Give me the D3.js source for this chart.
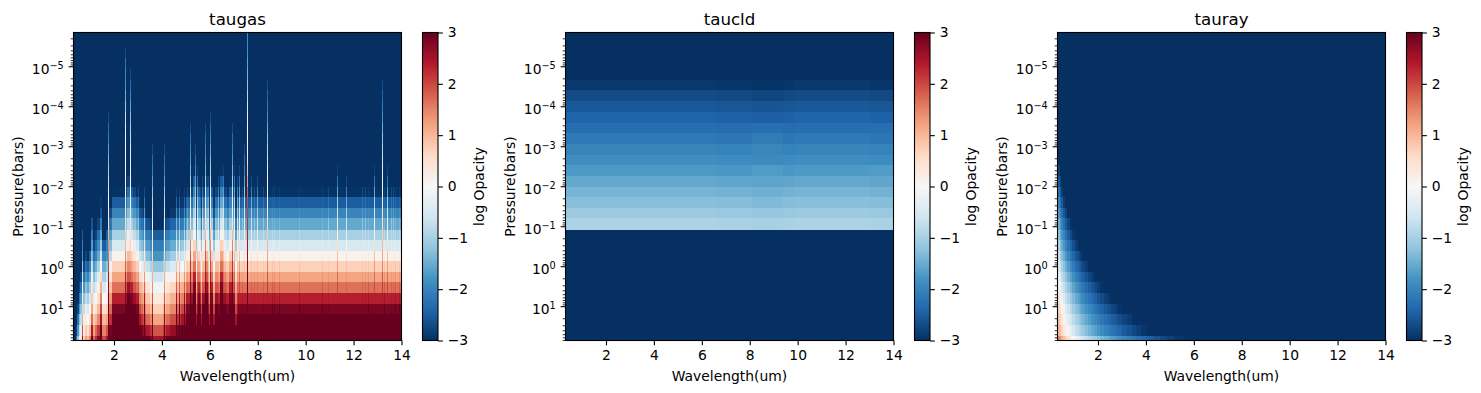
<!DOCTYPE html>
<html>
<head>
<meta charset="utf-8">
<style>
  html, body { margin: 0; padding: 0; background: #fff; }
  svg { display: block; }
  text { font-family: "DejaVu Sans", sans-serif; fill: #000; }
  .axis text { font-size: 13.89px; font-family: "DejaVu Sans", sans-serif; }
  .axis path { display: none; }
  .axis line { stroke: #000; stroke-width: 1.1; }
  .minor line { stroke-width: 0.83; }
</style>
</head>
<body>
<div id="chart"></div>
<script src="https://cdn.jsdelivr.net/npm/d3@7"></script>
<script>
// pressure layer edges in bars, top of the atmosphere first (30 layers)
const pressureEdges = [1.43e-6, 1.86e-6, 3.44e-6, 6.38e-6, 1.17e-5, 2.18e-5, 4.03e-5, 7.41e-5, 1.37e-4, 2.55e-4,
  4.69e-4, 8.67e-4, 1.61e-3, 2.96e-3, 5.48e-3, 1.02e-2, 1.88e-2, 3.46e-2, 6.41e-2, 0.121,
  0.224, 0.405, 0.75, 1.36, 2.51, 4.66, 8.57, 15.8, 29.5, 54.1, 72.1];

const waveTicks = [2, 4, 6, 8, 10, 12, 14];
const pressureTicks = [1e-5, 1e-4, 1e-3, 1e-2, 1e-1, 1, 10];
const pressureExponents = ['\u22125', '\u22124', '\u22123', '\u22122', '\u22121', '0', '1'];
const opacityTicks = [-3, -2, -1, 0, 1, 2, 3];
const titles = ['taugas', 'taucld', 'tauray'];

// RdBu_r stops from -3 to 3
const rdbu = ['#053061', '#2166ac', '#4393c3', '#92c5de', '#d1e5f0', '#f7f7f7', '#fddbc7', '#f4a582', '#d6604d', '#b2182b', '#67001f'];

// taugas: log opacity profiles, listed from the deepest layer upward; layers not listed sit at the floor of -3
const gasProfiles = [
  [],
  [-2.75],
  [-2.5],
  [-2.25, -2.75],
  [-2, -2.5],
  [-1.75, -2.25, -2.75],
  [-1.5, -2, -2.5],
  [-1.25, -1.75, -2.25, -2.75],
  [-1, -1.5, -2, -2.5],
  [-0.75, -1.25, -1.75, -2.25, -2.75],
  [-0.5, -1, -1.5, -2, -2.5],
  [-0.25, -0.75, -1.25, -1.75, -2.25, -2.75],
  [0, -0.5, -1, -1.5, -2, -2.5],
  [0.25, -0.25, -0.75, -1.25, -1.75, -2.25, -2.75],
  [0.5, 0, -0.5, -1, -1.5, -2, -2.5],
  [0.75, 0.25, -0.25, -0.75, -1.25, -1.75, -2.25, -2.75],
  [1, 0.5, 0, -0.5, -1, -1.5, -2, -2.5],
  [1.25, 0.75, 0.25, -0.25, -0.75, -1.25, -1.75, -2.25, -2.75],
  [1.5, 1, 0.5, 0, -0.5, -1, -1.5, -2, -2.5],
  [1.75, 1.25, 0.75, 0.25, -0.25, -0.75, -1.25, -1.75, -2.25, -2.75],
  [2, 1.5, 1, 0.5, 0, -0.5, -1, -1.5, -2, -2.5],
  [2.25, 1.7, 1, 0.45, 0.05, -0.35, -0.85, -1.45, -2.05, -2.4, -2.8],
  [2.5, 1.9, 1.2, 0.7, 0.3, -0.1, -0.6, -1.2, -1.8, -2.1, -2.5],
  [2.75, 2.15, 1.45, 0.95, 0.55, 0.15, -0.35, -0.95, -1.55, -1.9, -2.3, -2.8],
  [3, 2.4, 1.7, 1.2, 0.8, 0.4, -0.1, -0.7, -1.3, -1.7, -2.1, -2.6],
  [3.25, 2.65, 1.95, 1.45, 1.05, 0.65, 0.15, -0.45, -1.05, -1.5, -1.9, -2.4, -2.9],
  [3.5, 2.9, 2.2, 1.7, 1.3, 0.9, 0.4, -0.2, -0.8, -1.3, -1.7, -2.2, -2.7],
  [3.75, 3.2, 2.5, 2, 1.5, 1.1, 0.6, 0, -0.6, -1.1, -1.6, -2.1, -2.6, -2.9],
  [3.5, 3.5, 3.5, 2.85, 2.35, 1.65, 1.2, 0.7, 0.1, -0.5, -1, -1.55, -2, -2.5, -2.95],
  [3.5, 3.5, 3.5, 3.05, 2.6, 1.9, 1.45, 0.95, 0.35, -0.25, -0.75, -1.3, -1.75, -2.25, -2.8],
  [3.5, 3.5, 3.5, 3.5, 2.85, 2.35, 1.65, 1.2, 0.7, 0.1, -0.5, -1, -1.55, -2, -2.5, -2.95],
  [3.5, 3.5, 3.5, 3.5, 3.05, 2.6, 1.9, 1.45, 0.95, 0.35, -0.25, -0.75, -1.3, -1.75, -2.25, -2.8],
  [3.5, 3.5, 3.5, 3.5, 3.5, 2.85, 2.35, 1.65, 1.2, 0.7, 0.1, -0.5, -1, -1.55, -2, -2.5, -2.95]
];

// taugas background: wavelength bin edges (um) and the profile each bin uses
const gasWaveEdges = [0.31, 0.414, 0.469, 0.527, 0.581, 0.652, 0.706, 0.79, 0.873, 0.955, 1.04, 1.124, 1.206, 1.29, 1.404, 1.487,
  1.678, 1.748, 1.929, 2.45, 2.541, 2.671, 2.792, 2.922, 3.042, 3.133, 3.213, 3.333, 3.504, 3.624, 3.835, 4.046, 4.166, 4.337,
  4.588, 4.798, 5.009, 5.17, 5.3, 5.42, 5.51, 5.59, 5.67, 5.8, 5.92, 6.01, 6.13, 6.21, 6.34, 6.42, 6.55, 6.67, 6.81, 6.93,
  7.05, 7.18, 7.3, 7.43, 7.55, 14];
const gasBinProfile = [0, 3, 7, 11, 13, 22, 15, 17, 16, 18, 24, 19, 21, 23, 27, 20,
  22, 26, 28, 29, 31, 30, 29, 28, 27, 26, 25, 24, 23, 22, 22, 23, 24,
  25, 26, 27, 28, 29, 32, 27, 30, 27, 29, 31, 27, 30, 27, 29, 28, 32, 29, 28, 30,
  29, 27, 28, 28, 28, 28];

// taugas lines, top layer first; each row is one kind of line by how high it reaches
const lineProfiles = [
  [-1.9, -1.9, -1.8, -1.6, -1.4, -1.2, -0.9, -0.5, -0.2, 0, 0, 0.2, 0.5, 0.9, 1.3, 1.8, 2, 2.1, 2.2, 2.3, 2.5, 2.7, 2.8, 3, 3, 3, 3, 3, 3, 3],
  [-3, -3, -2.7, -2.2, -2, -1.8, -1.5, -1.1, -0.7, -0.4, -0.1, 0, 0, 0, 0.1, 0.2, 0.4, 0.5, 0.6, 0.8, 1, 1.4, 1.8, 2.3, 2.6, 2.8, 3, 3, 3, 3],
  [-3, -3, -3, -3, -2.7, -2.3, -2, -1.6, -1.3, -1, -0.8, -0.5, -0.3, -0.2, -0.1, 0, 0.2, 0.3, 0.4, 0.5, 0.7, 0.9, 1.4, 1.9, 2.3, 2.7, 3, 3, 3, 3],
  [-3, -3, -3, -3, -3, -2.7, -2.4, -2.1, -1.8, -1.5, -1.2, -0.9, -0.6, -0.3, -0.1, 0, 0.2, 0.4, 0.6, 0.8, 1, 1.2, 1.5, 1.9, 2.1, 2.4, 2.8, 3, 3, 3],
  [-3, -3, -3, -3, -3, -3, -3, -3, -2.7, -2.3, -2, -1.6, -1.3, -1, -0.7, -0.3, 0, 0.3, 0.6, 1, 1.4, 1.7, 2, 2.4, 2.7, 2.9, 3, 3, 3, 3],
  [-3, -3, -3, -3, -3, -3, -3, -3, -3, -2.7, -2.3, -2, -1.7, -1.4, -1, -0.5, -0.2, 0.1, 0.5, 1, 1.5, 1.9, 2.2, 2.5, 2.8, 3, 3, 3, 3, 3],
  [-3, -3, -3, -3, -3, -3, -3, -3, -3, -3, -3, -2.7, -2.3, -2, -1.6, -1.2, -0.8, -0.5, -0.2, 0.1, 0.3, 0.6, 0.9, 1.1, 1.4, 1.8, 2.3, 2.7, 3, 3],
  [-3, -3, -3, -3, -3, -3, -3, -3, -3, -3, -3, -3, -3, -2.8, -2.2, -1.6, -1, -0.5, -0.2, 0.1, 0.5, 0.9, 1.3, 1.7, 2, 2.3, 2.6, 3, 3, 3],
  [-3, -3, -3, -3, -3, -3, -3, -3, -3, -3, -3, -3, -3, -3, -2.7, -2.1, -1.5, -1, -0.6, -0.3, 0.1, 0.5, 0.9, 1.3, 1.8, 2.2, 2.6, 3, 3, 3],
  [-3, -3, -3, -3, -3, -3, -3, -3, -3, -3, -3, -3, -3, -3, -3, -2.7, -2.2, -1.7, -1.2, -0.8, -0.4, 0.2, 0.8, 1.3, 1.8, 2.4, 2.9, 3, 3, 3],
  [-3, -3, -3, -3, -3, -3, -3, -3, -3, -3, -3, -3, -3, -3, -3, -2.85, -2.4, -1.85, -1.4, -0.85, -0.35, 0.25, 0.85, 1.35, 1.85, 2.5, 3, 3, 3, 3]
];
const lineWave = [1.76, 2.49, 2.7, 2.54, 2.79, 2.88, 3.01, 3.27, 3.62, 4.1,
  4.62, 4.75, 4.95, 5.07, 5.2, 5.32, 5.39, 5.49, 5.6, 5.7, 5.81, 5.95, 6.02, 6.12, 6.24, 6.35, 6.45, 6.56, 6.7, 6.93, 7.04,
  7.15, 7.25, 7.35, 7.43, 7.56, 7.74, 7.85, 7.97, 8.22, 8.4, 8.6, 8.72, 8.89,
  9.75, 10.72, 10.96, 11.32, 11.7, 12.36, 12.49, 12.64, 12.87, 13.2, 13.3, 13.41, 13.58, 13.68, 13.77, 13.91];
const lineKind = [4, 1, 2, 9, 9, 9, 9, 9, 6, 6,
  10, 10, 10, 9, 5, 8, 6, 7, 9, 8, 5, 8, 4, 9, 9, 8, 9, 7, 9, 5, 7,
  8, 7, 9, 6, 0, 8, 9, 8, 9, 3, 10, 10, 10,
  10, 10, 9, 7, 8, 9, 9, 10, 7, 3, 10, 7, 9, 9, 10, 10];
const lineWidth = 0.042;

// taucld: wavelength bins and log opacity per cloud layer
const cldWaveEdges = [0.31, 6.6, 8.1, 9.4, 9.9, 13, 14];
const cldLayers = [5, 6, 7, 8, 9, 10, 11, 12, 13, 14, 15, 16, 17, 18];
const cldOpacity = [
  [-2.9, -2.93, -2.96, -2.93, -2.9, -2.93],
  [-2.7, -2.73, -2.76, -2.73, -2.7, -2.73],
  [-2.55, -2.58, -2.6, -2.58, -2.55, -2.58],
  [-2.42, -2.45, -2.48, -2.45, -2.42, -2.45],
  [-2.3, -2.32, -2.28, -2.32, -2.3, -2.28],
  [-2.15, -2.18, -2.12, -2.18, -2.15, -2.18],
  [-2, -2.03, -1.98, -2.03, -2, -2.03],
  [-1.87, -1.9, -1.92, -1.9, -1.87, -1.9],
  [-1.72, -1.75, -1.7, -1.75, -1.72, -1.7],
  [-1.55, -1.58, -1.6, -1.58, -1.55, -1.58],
  [-1.4, -1.43, -1.46, -1.43, -1.4, -1.43],
  [-1.27, -1.3, -1.33, -1.3, -1.27, -1.3],
  [-1.1, -1.13, -1.16, -1.13, -1.1, -1.13],
  [-0.95, -0.97, -1, -0.97, -0.95, -0.97]
];

// tauray: wavelength bins, then log opacity per layer from the deepest upward; bins not listed sit at -3
const rayWaveEdges = [0.31, 0.4, 0.47, 0.55, 0.63, 0.72, 0.82, 0.93, 1.05, 1.15, 1.25, 1.35, 1.47, 1.58, 1.7, 1.82, 1.95, 2.1, 2.25,
  2.4, 2.55, 2.7, 2.85, 3, 3.2, 3.4, 3.6, 3.8, 4.05, 4.3, 4.6, 4.9, 5.2, 5.6, 14];
const rayOpacity = [
  [1.5, 1.35, 1.1, 0.9, 0.65, 0.45, 0.2, 0, -0.17, -0.32, -0.46, -0.6, -0.73, -0.86, -0.98, -1.1, -1.23, -1.35, -1.47, -1.57, -1.68, -1.77, -1.86, -1.97, -2.07, -2.18, -2.27, -2.38, -2.48, -2.6, -2.71, -2.81, -2.93],
  [1, 0.9, 0.62, 0.37, 0.13, -0.1, -0.32, -0.53, -0.72, -0.87, -1.01, -1.15, -1.28, -1.41, -1.53, -1.65, -1.78, -1.9, -2.02, -2.12, -2.23, -2.32, -2.41, -2.52, -2.62, -2.73, -2.82, -2.93],
  [0.8, 0.64, 0.36, 0.11, -0.13, -0.36, -0.58, -0.79, -0.98, -1.13, -1.27, -1.41, -1.54, -1.67, -1.79, -1.91, -2.04, -2.16, -2.28, -2.38, -2.49, -2.58, -2.67, -2.78, -2.88, -2.99],
  [0.65, 0.37, 0.09, -0.16, -0.4, -0.63, -0.85, -1.06, -1.25, -1.4, -1.54, -1.68, -1.81, -1.94, -2.06, -2.18, -2.31, -2.43, -2.55, -2.65, -2.76, -2.85, -2.94],
  [0.38, 0.1, -0.18, -0.43, -0.67, -0.9, -1.12, -1.33, -1.52, -1.67, -1.81, -1.95, -2.08, -2.21, -2.33, -2.45, -2.58, -2.7, -2.82, -2.92],
  [0.12, -0.16, -0.44, -0.69, -0.93, -1.16, -1.38, -1.59, -1.78, -1.93, -2.07, -2.21, -2.34, -2.47, -2.59, -2.71, -2.84, -2.96],
  [-0.15, -0.43, -0.71, -0.96, -1.2, -1.43, -1.65, -1.86, -2.05, -2.2, -2.34, -2.48, -2.61, -2.74, -2.86, -2.98],
  [-0.41, -0.69, -0.97, -1.22, -1.46, -1.69, -1.91, -2.12, -2.31, -2.46, -2.6, -2.74, -2.87],
  [-0.68, -0.96, -1.24, -1.49, -1.73, -1.96, -2.18, -2.39, -2.58, -2.73, -2.87],
  [-0.94, -1.22, -1.5, -1.75, -1.99, -2.22, -2.44, -2.65, -2.84, -2.99],
  [-1.21, -1.49, -1.77, -2.02, -2.26, -2.49, -2.71, -2.92],
  [-1.47, -1.75, -2.03, -2.28, -2.52, -2.75, -2.97],
  [-1.74, -2.02, -2.3, -2.55, -2.79],
  [-2.01, -2.29, -2.57, -2.82],
  [-2.27, -2.55, -2.83],
  [-2.54, -2.82],
  [-2.81]
];

const chartWidth = 1481;
const chartHeight = 393;
const panelLeft = [73.5, 565.5, 1057.5];
const panelWidth = 328;
const plotTop = 32.5;
const plotBottom = 340.5;
const cbarGap = 349;
const cbarWidth = 15.5;
const tickLength = 4.86;
const layerCount = pressureEdges.length - 1;

const color = d3.scaleLinear()
  .domain(rdbu.map((d, i) => -3 + i * 0.6))
  .range(rdbu)
  .clamp(true);

const svg = d3.select('#chart').append('svg')
  .attr('width', chartWidth)
  .attr('height', chartHeight);

const defs = svg.append('defs');
const gradient = defs.append('linearGradient')
  .attr('id', 'cbar')
  .attr('x1', 0).attr('y1', 1).attr('x2', 0).attr('y2', 0);
gradient.selectAll('stop')
  .data(rdbu)
  .join('stop')
  .attr('offset', (d, i) => i / (rdbu.length - 1))
  .attr('stop-color', (d) => d);

// flat list of cells for one panel: cell(binIndex, layerIndex) gives the log opacity
function gridCells(edges, cell) {
  const cells = [];
  d3.range(edges.length - 1).forEach((b) => {
    d3.range(layerCount).forEach((l) => {
      cells.push({ w0: edges[b], w1: edges[b + 1], l, v: cell(b, l) });
    });
  });
  return cells;
}

function gasBackground(w, l) {
  const bin = d3.bisectRight(gasWaveEdges, w) - 1;
  const v = gasProfiles[gasBinProfile[bin]][layerCount - 1 - l];
  return v === undefined ? -3 : v;
}

const gasCells = gridCells(gasWaveEdges, (b, l) => gasBackground(gasWaveEdges[b], l));
lineWave.forEach((w, i) => {
  d3.range(layerCount).forEach((l) => {
    const v = lineProfiles[lineKind[i]][l];
    // a line only shows where it is stronger than the bin behind it
    if (v > gasBackground(w, l)) {
      gasCells.push({ w0: w - lineWidth / 2, w1: w + lineWidth / 2, l, v });
    }
  });
});

const cldCells = gridCells(cldWaveEdges, (b, l) => {
  const row = cldLayers.indexOf(l);
  return row < 0 ? -3 : cldOpacity[row][b];
});

const rayCells = gridCells(rayWaveEdges, (b, l) => {
  const row = rayOpacity[layerCount - 1 - l];
  return row === undefined || row[b] === undefined ? -3 : row[b];
});

const panelCells = [gasCells, cldCells, rayCells];

titles.forEach((title, p) => {
  const left = panelLeft[p];
  const right = left + panelWidth;
  const g = svg.append('g');

  const xScale = d3.scaleLinear().domain([0.31, 14]).range([left, right]);
  const yScale = d3.scaleLog().domain([pressureEdges[0], pressureEdges[layerCount]]).range([plotTop, plotBottom]);
  const opacityScale = d3.scaleLinear().domain([-3, 3]).range([plotBottom, plotTop]);

  g.append('g')
    .attr('shape-rendering', 'crispEdges')
    .selectAll('rect')
    .data(panelCells[p])
    .join('rect')
    .attr('x', (d) => xScale(d.w0))
    .attr('y', (d) => yScale(pressureEdges[d.l]))
    .attr('width', (d) => xScale(d.w1) - xScale(d.w0))
    .attr('height', (d) => yScale(pressureEdges[d.l + 1]) - yScale(pressureEdges[d.l]))
    .attr('fill', (d) => color(d.v));

  // x axis
  const xAxis = d3.axisBottom(xScale).tickValues(waveTicks).tickSize(tickLength).tickPadding(tickLength);
  g.append('g')
    .attr('class', 'axis')
    .attr('transform', `translate(0, ${plotBottom})`)
    .call(xAxis);

  // y axis, minor ticks first
  const minors = [];
  d3.range(-6, 2).forEach((e) => {
    d3.range(2, 10).forEach((m) => {
      const v = m * Math.pow(10, e);
      if (v > pressureEdges[0] && v < pressureEdges[layerCount]) minors.push(v);
    });
  });
  g.append('g')
    .attr('class', 'axis minor')
    .attr('transform', `translate(${left}, 0)`)
    .call(d3.axisLeft(yScale).tickValues(minors).tickSize(2.78).tickFormat(''));

  const yAxis = g.append('g')
    .attr('class', 'axis')
    .attr('transform', `translate(${left}, 0)`)
    .call(d3.axisLeft(yScale).tickValues(pressureTicks).tickSize(tickLength).tickPadding(tickLength).tickFormat(''));
  yAxis.selectAll('.tick text').each(function (d, i) {
    const t = d3.select(this);
    t.text('10');
    t.attr('dy', '0.5em');
    t.append('tspan')
      .attr('dy', '-0.5em')
      .style('font-size', '9.7px')
      .text(pressureExponents[i]);
  });

  // frame
  g.append('rect')
    .attr('x', left)
    .attr('y', plotTop)
    .attr('width', panelWidth)
    .attr('height', plotBottom - plotTop)
    .attr('fill', 'none')
    .attr('stroke', '#000')
    .attr('stroke-width', 1.1);

  g.append('text')
    .attr('x', left + panelWidth / 2)
    .attr('y', 25)
    .attr('text-anchor', 'middle')
    .style('font-size', '16.67px')
    .text(title);

  g.append('text')
    .attr('x', left + panelWidth / 2)
    .attr('y', 381)
    .attr('text-anchor', 'middle')
    .style('font-size', '13.89px')
    .text('Wavelength(um)');

  g.append('text')
    .attr('transform', `translate(${left - 51}, ${(plotTop + plotBottom) / 2}) rotate(-90)`)
    .attr('text-anchor', 'middle')
    .style('font-size', '13.89px')
    .text('Pressure(bars)');

  // colorbar
  const cx = left + cbarGap;
  g.append('rect')
    .attr('x', cx)
    .attr('y', plotTop)
    .attr('width', cbarWidth)
    .attr('height', plotBottom - plotTop)
    .attr('fill', 'url(#cbar)')
    .attr('stroke', '#000')
    .attr('stroke-width', 1.1);

  g.append('g')
    .attr('class', 'axis')
    .attr('transform', `translate(${cx + cbarWidth}, 0)`)
    .call(d3.axisRight(opacityScale)
      .tickValues(opacityTicks)
      .tickSize(tickLength)
      .tickPadding(tickLength)
      .tickFormat((d) => (d < 0 ? '\u2212' + -d : '' + d)));

  g.append('text')
    .attr('transform', `translate(${cx + 61}, ${(plotTop + plotBottom) / 2}) rotate(-90)`)
    .attr('text-anchor', 'middle')
    .style('font-size', '13.89px')
    .text('log Opacity');
});
</script>
</body>
</html>
